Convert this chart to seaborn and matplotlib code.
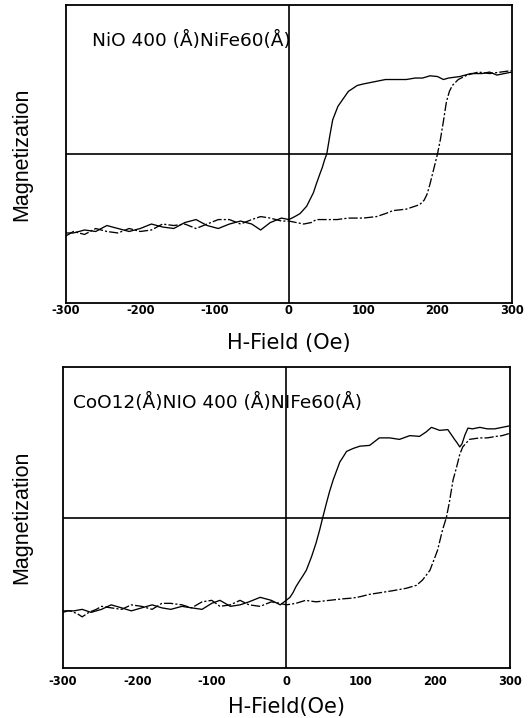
import matplotlib
matplotlib.use("Agg")
import matplotlib.pyplot as plt
import pandas as pd
import seaborn as sns

# ---- NiO 400 Å / NiFe 60 Å : field sweep from +300 Oe down to -300 Oe
top_down_field = [300, 290, 280, 270, 260, 245, 230, 215, 208, 200,
                  190, 180, 170, 158, 145, 130, 115, 100, 92, 86,
                  80, 73, 66, 59, 55, 51, 48, 45, 42, 37,
                  33, 28, 24, 15, 8, 0, -10, -25, -38, -50,
                  -65, -80, -95, -110, -125, -140, -155, -170, -185, -200,
                  -215, -230, -245, -260, -275, -290, -300]
top_down_mag = [0.55, 0.54, 0.53, 0.55, 0.54, 0.54, 0.52, 0.51, 0.50, 0.52,
                0.525, 0.51, 0.51, 0.50, 0.50, 0.50, 0.485, 0.47, 0.46, 0.44,
                0.42, 0.37, 0.32, 0.23, 0.12, 0.0, -0.04, -0.09, -0.13, -0.20,
                -0.26, -0.31, -0.35, -0.40, -0.42, -0.44, -0.43, -0.46, -0.51, -0.47,
                -0.45, -0.47, -0.50, -0.48, -0.44, -0.46, -0.50, -0.49, -0.47, -0.50,
                -0.52, -0.50, -0.48, -0.52, -0.51, -0.53, -0.53]

# ---- NiO 400 Å / NiFe 60 Å : field sweep from -300 Oe up to +300 Oe
top_up_field = [-300, -290, -275, -260, -245, -230, -215, -200, -185, -170,
                -155, -140, -125, -110, -95, -80, -65, -50, -38, -25,
                -10, 0, 10, 20, 30, 37, 50, 65, 80, 100,
                118, 130, 140, 158, 170, 176, 182, 186, 190, 194,
                197, 200, 204, 208, 212, 216, 220, 228, 240, 255,
                270, 285, 300]
top_up_mag = [-0.55, -0.52, -0.54, -0.50, -0.52, -0.53, -0.50, -0.52, -0.51, -0.47,
              -0.48, -0.47, -0.50, -0.47, -0.44, -0.44, -0.47, -0.44, -0.42, -0.43,
              -0.45, -0.45, -0.46, -0.47, -0.46, -0.44, -0.44, -0.44, -0.43, -0.43,
              -0.42, -0.40, -0.38, -0.37, -0.35, -0.34, -0.31, -0.27, -0.20, -0.12,
              -0.06, 0.0, 0.10, 0.22, 0.35, 0.42, 0.46, 0.50, 0.53, 0.55,
              0.54, 0.55, 0.56]

# ---- CoO 12 Å / NiO 400 Å / NiFe 60 Å : sweep down
bot_down_field = [300, 290, 280, 270, 260, 250, 244, 240, 236, 233,
                  229, 226, 217, 206, 195, 188, 179, 166, 152, 139,
                  125, 112, 99, 90, 81, 76, 72, 63, 58, 54,
                  49, 45, 40, 34, 27, 22, 18, 13, 9, 5,
                  0, -8, -20, -35, -50, -62, -75, -89, -100, -113,
                  -127, -140, -155, -167, -180, -194, -208, -221, -235, -248,
                  -262, -274, -285, -293, -300]
bot_down_mag = [0.61, 0.60, 0.59, 0.59, 0.60, 0.59, 0.595, 0.55, 0.49, 0.47,
                0.50, 0.52, 0.585, 0.58, 0.60, 0.57, 0.54, 0.545, 0.52, 0.53,
                0.53, 0.48, 0.475, 0.46, 0.44, 0.40, 0.37, 0.25, 0.17, 0.096,
                0.0, -0.08, -0.17, -0.26, -0.35, -0.39, -0.42, -0.46, -0.50, -0.53,
                -0.55, -0.58, -0.55, -0.53, -0.56, -0.58, -0.59, -0.55, -0.57, -0.61,
                -0.60, -0.59, -0.61, -0.60, -0.58, -0.60, -0.62, -0.60, -0.58, -0.61,
                -0.63, -0.61, -0.62, -0.62, -0.63]

# ---- CoO 12 Å / NiO 400 Å / NiFe 60 Å : sweep up
bot_up_field = [-300, -290, -280, -274, -265, -255, -248, -235, -221, -208,
                -194, -180, -167, -155, -140, -127, -113, -100, -89, -75,
                -62, -50, -35, -20, -8, 0, 13, 26, 40, 58,
                76, 89, 99, 112, 125, 143, 161, 175, 183, 193,
                203, 210, 215, 219, 224, 229, 233, 237, 246, 260,
                270, 282, 290, 300]
bot_up_mag = [-0.62, -0.62, -0.64, -0.66, -0.63, -0.61, -0.59, -0.60, -0.61, -0.58,
              -0.59, -0.61, -0.57, -0.57, -0.58, -0.60, -0.56, -0.55, -0.59, -0.58,
              -0.55, -0.58, -0.59, -0.56, -0.57, -0.58, -0.57, -0.55, -0.56, -0.55,
              -0.54, -0.535, -0.526, -0.51, -0.50, -0.486, -0.47, -0.45, -0.415, -0.35,
              -0.22, -0.08, 0.0, 0.10, 0.25, 0.34, 0.42, 0.47, 0.52, 0.53,
              0.53, 0.54, 0.545, 0.56]

sample_labels = ["NiO 400 (Å)NiFe60(Å)", "CoO12(Å)NIO 400 (Å)NIFe60(Å)"]
xlabels = ["H-Field (Oe)", "H-Field(Oe)"]
ylabel = "Magnetization"
field_ticks = [-300, -200, -100, 0, 100, 200, 300]


def loop_frame(down_h, down_m, up_h, up_m):
    down = pd.DataFrame({"field": down_h, "mag": down_m, "sweep": "down"})
    up = pd.DataFrame({"field": up_h, "mag": up_m, "sweep": "up"})
    return pd.concat([down, up], ignore_index=True)


frames = [
    loop_frame(top_down_field, top_down_mag, top_up_field, top_up_mag),
    loop_frame(bot_down_field, bot_down_mag, bot_up_field, bot_up_mag),
]

sns.set_style("white")
plt.rcParams["font.family"] = ["DejaVu Sans"]
plt.rcParams["axes.unicode_minus"] = False
plt.rcParams["text.color"] = "black"
plt.rcParams["axes.labelcolor"] = "black"
plt.rcParams["xtick.color"] = "black"

fig = plt.figure(figsize=(5.32, 7.18), dpi=100)
# [left, bottom, width, height] in figure fraction
boxes = [[0.124, 0.578, 0.838, 0.415],
         [0.118, 0.0696, 0.840, 0.419]]
tick_pads = [0.8, 5.0]
xlabel_y = [-0.134, -0.13]
text_pos = [(0.058, 0.88), (0.022, 0.884)]

for i, df in enumerate(frames):
    ax = fig.add_axes(boxes[i])
    sns.lineplot(data=df, x="field", y="mag", style="sweep",
                 dashes={"down": "", "up": (7, 1.6, 1.6, 1.6)},
                 color="black", linewidth=0.95, sort=False,
                 estimator=None, legend=False, ax=ax)
    ax.axhline(0, color="black", linewidth=1.2, zorder=1)
    ax.axvline(0, color="black", linewidth=1.2, zorder=1)
    ax.set_xlim(-300, 300)
    ax.set_ylim(-1, 1)
    ax.set_xticks(field_ticks)
    ax.set_xticklabels([str(t) for t in field_ticks])
    ax.set_yticks([])
    ax.tick_params(axis="x", length=0, pad=tick_pads[i], labelsize=8.3,
                   labelcolor="black")
    for lab in ax.get_xticklabels():
        lab.set_fontweight("bold")
    for sp in ax.spines.values():
        sp.set_color("black")
        sp.set_linewidth(1.3)
    ax.set_xlabel(xlabels[i], fontsize=15, va="center", color="black")
    ax.xaxis.set_label_coords(0.5, xlabel_y[i])
    ax.set_ylabel("")
    ax.text(text_pos[i][0], text_pos[i][1], sample_labels[i],
            transform=ax.transAxes, fontsize=13.3, va="center", ha="left",
            color="black")
    yc = boxes[i][1] + boxes[i][3] / 2
    fig.text(22 / 532, yc, ylabel, rotation=90, ha="center", va="center",
             fontsize=15.5, color="black",
             family=["Liberation Sans", "DejaVu Sans"])

fig.savefig("out.png", dpi=100)
